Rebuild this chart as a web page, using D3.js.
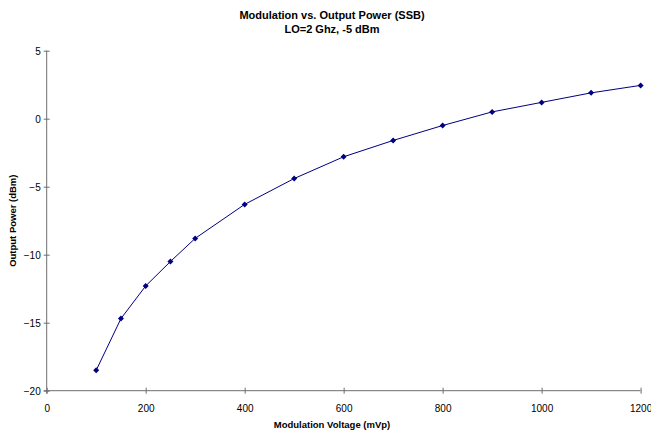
<!DOCTYPE html>
<html>
<head>
<meta charset="utf-8">
<script src="https://cdn.jsdelivr.net/npm/d3@7"></script>
<style>
  html, body { margin: 0; padding: 0; background: #fff; }
  svg { display: block; font-family: "Liberation Sans", Arial, sans-serif; }
</style>
</head>
<body>
<svg id="chart" width="651" height="434"></svg>
<script>
const voltages = [100, 150, 200, 250, 300, 400, 500, 600, 700, 800, 900, 1000, 1100, 1200];
const powers = [-18.5, -14.7, -12.3, -10.5, -8.8, -6.3, -4.4, -2.8, -1.6, -0.5, 0.5, 1.2, 1.9, 2.45];
const xTicks = [0, 200, 400, 600, 800, 1000, 1200];
const yTicks = [-20, -15, -10, -5, 0, 5];
const titleLines = ["Modulation vs. Output Power (SSB)", "LO=2 Ghz, -5 dBm"];
const xTitle = "Modulation Voltage (mVp)";
const yTitle = "Output Power (dBm)";

const svg = d3.select("#chart");
const x = d3.scaleLinear().domain([0, 1200]).range([46.7, 640.6]);
const y = d3.scaleLinear().domain([-20, 5]).range([390.7, 50.7]);
const axisColor = "#6e6e6e";

// Title
svg.append("text")
  .attr("x", 332).attr("y", 19)
  .attr("text-anchor", "middle")
  .attr("font-size", 11).attr("font-weight", "bold")
  .text(titleLines[0]);
svg.append("text")
  .attr("x", 332).attr("y", 33)
  .attr("text-anchor", "middle")
  .attr("font-size", 11).attr("font-weight", "bold")
  .text(titleLines[1]);

// X axis
const xAxis = svg.append("g")
  .attr("transform", `translate(0,${y(-20)})`)
  .call(d3.axisBottom(x).tickValues(xTicks).tickSize(0).tickPadding(0).tickFormat(d3.format("d")));
xAxis.select(".domain").attr("stroke", axisColor).attr("d", `M${x(0) - 3},0H${x(1200)}`);
xAxis.selectAll(".tick line").attr("stroke", axisColor).attr("y1", -3).attr("y2", 3);
xAxis.selectAll(".tick text").attr("fill", "#000").attr("font-size", 10)
  .attr("font-family", "Liberation Sans, Arial, sans-serif")
  .attr("dy", null).attr("y", 21);

// Y axis
const yAxis = svg.append("g")
  .attr("transform", `translate(${x(0)},0)`)
  .call(d3.axisLeft(y).tickValues(yTicks).tickSize(0).tickPadding(0).tickFormat(d3.format("d")));
yAxis.select(".domain").attr("stroke", axisColor).attr("d", `M0,${y(-20) + 3}V${y(5)}`);
yAxis.selectAll(".tick line").attr("stroke", axisColor).attr("x1", -3).attr("x2", 3);
yAxis.selectAll(".tick text").attr("fill", "#000").attr("font-size", 10)
  .attr("font-family", "Liberation Sans, Arial, sans-serif")
  .attr("x", -6).attr("dy", "0.35em");

// Axis titles
svg.append("text")
  .attr("x", 332).attr("y", 428)
  .attr("text-anchor", "middle")
  .attr("font-size", 9.5).attr("font-weight", "bold")
  .text(xTitle);
svg.append("text")
  .attr("transform", `translate(16,${(y(-20) + y(5)) / 2}) rotate(-90)`)
  .attr("text-anchor", "middle")
  .attr("font-size", 9.5).attr("font-weight", "bold")
  .text(yTitle);

// Data
const data = voltages.map((v, i) => ({ v, p: powers[i] }));
svg.append("path")
  .datum(data)
  .attr("fill", "none")
  .attr("stroke", "#000080")
  .attr("stroke-width", 1)
  .attr("d", d3.line().x(d => x(d.v)).y(d => y(d.p)));

svg.append("g").selectAll("path")
  .data(data)
  .join("path")
  .attr("transform", d => `translate(${x(d.v)},${y(d.p)}) rotate(45)`)
  .attr("d", d3.symbol(d3.symbolSquare, 18))
  .attr("fill", "#000080");
</script>
</body>
</html>
